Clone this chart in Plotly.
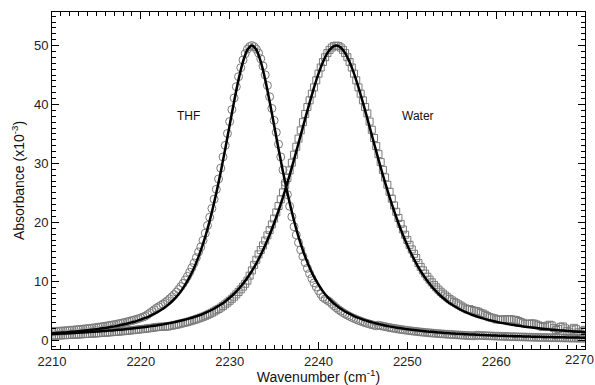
import plotly.graph_objects as go

# Sampling grid of the measured spectra (cm^-1)
wn_start = 2210.0
data_step = 0.25
fit_step = 0.5

# Measured absorbance (x10^-3), nitrile band in THF
thf_data = [
    1.45, 1.48, 1.50, 1.53, 1.56, 1.58, 1.61, 1.64, 1.68, 1.71,
    1.74, 1.78, 1.81, 1.85, 1.89, 1.93, 1.98, 2.02, 2.06, 2.11,
    2.16, 2.21, 2.27, 2.32, 2.38, 2.44, 2.51, 2.57, 2.64, 2.71,
    2.79, 2.87, 2.95, 3.04, 3.13, 3.23, 3.33, 3.43, 3.54, 3.66,
    3.79, 3.93, 4.07, 4.33, 4.59, 4.86, 5.15, 5.44, 5.66, 5.89,
    6.13, 6.40, 6.70, 7.02, 7.36, 7.73, 8.15, 8.60, 9.08, 9.62,
    10.21, 10.83, 11.53, 12.29, 13.10, 14.00, 14.97, 15.82, 16.94, 18.16,
    19.46, 20.86, 22.35, 23.93, 25.60, 27.36, 29.20, 31.10, 33.06, 35.07,
    37.10, 39.13, 41.11, 43.02, 44.72, 46.24, 47.56, 48.63, 49.39, 49.82,
    50.00, 49.82, 49.39, 48.73, 47.76, 46.54, 45.02, 43.22, 41.31, 39.33,
    37.30, 35.27, 33.26, 31.10, 28.90, 26.76, 24.70, 22.73, 20.95, 19.26,
    17.86, 16.56, 15.34, 14.22, 13.17, 12.20, 11.30, 10.49, 9.73, 9.03,
    8.41, 7.82, 7.28, 7.00, 6.75, 6.53, 6.16, 5.82, 5.50, 5.20,
    4.93, 4.69, 4.46, 4.24, 4.05, 3.86, 3.69, 3.53, 3.37, 3.23,
    3.09, 2.96, 2.84, 2.73, 2.63, 2.53, 2.43, 2.54, 2.45, 2.37,
    2.29, 2.21, 2.14, 2.07, 2.01, 1.94, 1.88, 1.82, 1.77, 1.71,
    1.66, 1.61, 1.56, 1.52, 1.48, 1.43, 1.39, 1.35, 1.31, 1.28,
    1.24, 1.21, 1.18, 1.14, 1.11, 1.08, 1.06, 1.03, 1.00, 0.98,
    0.95, 0.93, 0.90, 0.88, 0.86, 0.83, 0.81, 0.79, 0.77, 0.76,
    0.74, 0.82, 0.80, 0.79, 0.77, 0.76, 0.74, 0.73, 0.71, 0.70,
    0.68, 0.67, 0.65, 0.64, 0.63, 0.62, 0.60, 0.59, 0.58, 0.57,
    0.56, 0.55, 0.54, 0.53, 0.52, 0.51, 0.50, 0.49, 0.48, 0.47,
    0.46, 0.45, 0.44, 0.44, 0.43, 0.42, 0.41, 0.40, 0.40, 0.39,
    0.38, 0.37, 0.37, 0.36, 0.35, 0.35, 0.34, 0.33, 0.33, 0.32,
    0.32,
]

# Measured absorbance (x10^-3), nitrile band in water
water_data = [
    0.75, 0.77, 0.78, 0.80, 0.82, 0.84, 0.85, 0.87, 0.89, 0.91,
    0.93, 0.95, 0.97, 0.99, 1.02, 1.04, 1.06, 1.08, 1.11, 1.13,
    1.16, 1.19, 1.21, 1.24, 1.27, 1.30, 1.33, 1.36, 1.39, 1.42,
    1.45, 1.49, 1.52, 1.56, 1.60, 1.64, 1.68, 1.72, 1.77, 1.81,
    1.85, 1.90, 1.94, 1.99, 2.04, 2.09, 2.15, 2.20, 2.26, 2.27,
    2.28, 2.30, 2.32, 2.39, 2.47, 2.54, 2.62, 2.71, 2.81, 2.90,
    2.99, 3.09, 3.20, 3.31, 3.43, 3.55, 3.68, 3.82, 3.97, 4.13,
    4.30, 4.48, 4.66, 4.86, 5.08, 5.30, 5.54, 5.80, 6.08, 6.38,
    6.69, 7.02, 7.38, 7.77, 8.18, 8.62, 9.08, 9.57, 10.10, 10.95,
    11.84, 12.78, 13.65, 14.56, 15.30, 16.08, 16.91, 17.79, 18.69, 19.64,
    20.64, 21.69, 22.77, 23.91, 25.08, 26.28, 27.53, 28.81, 30.12, 31.47,
    32.83, 34.21, 35.61, 37.00, 38.39, 39.57, 40.71, 41.84, 42.90, 44.11,
    45.24, 46.28, 47.21, 48.03, 48.73, 49.27, 49.67, 49.92, 50.00, 49.92,
    49.67, 49.27, 48.73, 48.03, 47.21, 46.28, 45.24, 44.11, 42.90, 41.84,
    40.71, 39.57, 38.49, 37.10, 35.71, 34.31, 32.93, 31.57, 30.22, 28.91,
    27.63, 26.38, 25.18, 24.01, 22.87, 21.79, 20.74, 19.74, 18.79, 17.89,
    17.01, 16.18, 15.40, 14.66, 13.95, 13.08, 12.44, 11.85, 11.30, 10.77,
    10.28, 9.82, 9.38, 8.97, 8.58, 8.22, 7.89, 7.58, 7.28, 7.00,
    6.74, 6.50, 6.28, 6.06, 5.86, 5.58, 5.40, 5.23, 5.27, 5.12,
    4.98, 4.95, 4.83, 4.61, 4.50, 4.29, 4.09, 3.90, 3.81, 3.71,
    3.52, 3.54, 3.47, 3.49, 3.52, 3.55, 3.58, 3.52, 3.46, 3.40,
    3.25, 3.09, 2.94, 2.79, 2.74, 2.80, 2.85, 2.81, 2.67, 2.52,
    2.38, 2.24, 2.30, 2.46, 2.62, 2.49, 2.05, 1.72, 1.89, 2.26,
    2.33, 2.00, 1.57, 1.34, 1.81, 2.09, 1.86, 1.33, 1.11, 1.58,
    1.76,
]

# Fitted line shapes, sampled every 0.5 cm^-1
thf_fit = [
    1.15, 1.20, 1.26, 1.31, 1.38, 1.44, 1.51, 1.59, 1.68, 1.76,
    1.86, 1.97, 2.08, 2.21, 2.34, 2.49, 2.65, 2.83, 3.03, 3.24,
    3.49, 3.77, 4.09, 4.45, 4.86, 5.33, 5.90, 6.56, 7.35, 8.28,
    9.41, 10.73, 12.30, 14.17, 16.34, 18.86, 21.75, 25.00, 28.60, 32.46,
    36.50, 40.51, 44.22, 47.26, 49.29, 50.00, 49.29, 47.26, 44.22, 40.51,
    36.50, 32.46, 28.60, 25.00, 21.75, 18.86, 16.34, 14.17, 12.30, 10.73,
    9.41, 8.28, 7.35, 6.56, 5.90, 5.33, 4.86, 4.45, 4.09, 3.77,
    3.49, 3.24, 3.03, 2.83, 2.65, 2.49, 2.34, 2.21, 2.08, 1.97,
    1.86, 1.76, 1.68, 1.59, 1.51, 1.44, 1.38, 1.31, 1.26, 1.20,
    1.15, 1.10, 1.06, 1.01, 0.97, 0.94, 0.90, 0.87, 0.84, 0.81,
    0.78, 0.75, 0.73, 0.70, 0.68, 0.66, 0.64, 0.62, 0.60, 0.58,
    0.56, 0.54, 0.53, 0.51, 0.50, 0.48, 0.47, 0.45, 0.44, 0.43,
    0.42,
]

water_fit = [
    1.05, 1.08, 1.12, 1.15, 1.19, 1.23, 1.27, 1.32, 1.36, 1.41,
    1.46, 1.51, 1.57, 1.63, 1.69, 1.75, 1.82, 1.90, 1.98, 2.07,
    2.15, 2.24, 2.34, 2.45, 2.56, 2.68, 2.82, 2.97, 3.12, 3.31,
    3.49, 3.70, 3.93, 4.18, 4.47, 4.80, 5.16, 5.58, 6.04, 6.58,
    7.19, 7.88, 8.68, 9.58, 10.60, 11.74, 13.05, 14.50, 16.11, 17.89,
    19.84, 21.97, 24.28, 26.73, 29.32, 32.03, 34.81, 37.59, 40.31, 42.90,
    45.24, 47.21, 48.73, 49.67, 50.00, 49.67, 48.73, 47.21, 45.24, 42.90,
    40.31, 37.59, 34.81, 32.03, 29.32, 26.73, 24.28, 21.97, 19.84, 17.89,
    16.11, 14.50, 13.05, 11.74, 10.60, 9.58, 8.68, 7.88, 7.19, 6.58,
    6.04, 5.58, 5.16, 4.80, 4.47, 4.18, 3.93, 3.70, 3.49, 3.31,
    3.12, 2.97, 2.82, 2.68, 2.56, 2.45, 2.34, 2.24, 2.15, 2.07,
    1.98, 1.90, 1.82, 1.75, 1.69, 1.63, 1.57, 1.51, 1.46, 1.41,
    1.36,
]

x_ticks = [2210, 2220, 2230, 2240, 2250, 2260, 2270]
y_ticks = [0, 10, 20, 30, 40, 50]
labels = [("THF", 2225.4, 38.1), ("Water", 2251.15, 38.1)]

x_data = [wn_start + data_step * i for i in range(len(thf_data))]
x_fit = [wn_start + fit_step * i for i in range(len(thf_fit))]

FONT = "Liberation Sans, Arial, Helvetica, sans-serif"
MARKER_GRAY = "#7a7a7a"
TICK_FONT = dict(family=FONT, size=13, color="#222")

fig = go.Figure()

fig.add_trace(go.Scatter(
    x=x_data, y=thf_data, mode="markers", name="THF",
    marker=dict(symbol="circle-open", size=8, color=MARKER_GRAY,
                line=dict(width=1, color=MARKER_GRAY)),
))
fig.add_trace(go.Scatter(
    x=x_data, y=water_data, mode="markers", name="Water",
    marker=dict(symbol="square-open", size=7, color=MARKER_GRAY,
                line=dict(width=1, color=MARKER_GRAY)),
))
fig.add_trace(go.Scatter(
    x=x_fit, y=thf_fit, mode="lines", name="THF fit",
    line=dict(color="black", width=2.5, shape="spline", smoothing=0.6),
))
fig.add_trace(go.Scatter(
    x=x_fit, y=water_fit, mode="lines", name="Water fit",
    line=dict(color="black", width=2.5, shape="spline", smoothing=0.6),
))

for text, xv, yv in labels:
    fig.add_annotation(x=xv, y=yv, xref="x", yref="y", text=text,
                       showarrow=False, font=dict(family=FONT, size=12, color="#111"))

# The last x label sits at the right page edge: pull it inward so it stays whole
x_ticktext = [str(v) for v in x_ticks[:-1]] + [""]
fig.add_annotation(x=x_ticks[-1], y=0, xref="x", yref="paper", text=str(x_ticks[-1]),
                   showarrow=False, xanchor="right", yanchor="top", xshift=11, yshift=-1,
                   font=TICK_FONT)

axis_common = dict(
    showline=True, linecolor="black", linewidth=1, mirror="allticks",
    ticks="inside", ticklen=7, tickwidth=1, tickcolor="black",
    showgrid=False, zeroline=False, tickfont=TICK_FONT,
)

fig.update_xaxes(
    range=[2210, 2270], tickvals=x_ticks, ticktext=x_ticktext,
    minor=dict(ticks="inside", ticklen=4, dtick=1, tick0=2210, tickcolor="black", showgrid=False),
    title=dict(text="Wavenumber (cm<sup>-1</sup>)", font=dict(family=FONT, size=14, color="#111"), standoff=1),
    **axis_common,
)
fig.update_yaxes(
    range=[-1.5, 55.7], tickvals=y_ticks,
    minor=dict(ticks="inside", ticklen=4, dtick=1, tick0=0, tickcolor="black", showgrid=False),
    title=dict(text="Absorbance (x10<sup>-3</sup>)", font=dict(family=FONT, size=14, color="#111"), standoff=6),
    **axis_common,
)

fig.update_layout(
    width=595, height=385,
    margin=dict(l=52, r=10, t=12, b=36, autoexpand=False),
    paper_bgcolor="white", plot_bgcolor="white",
    showlegend=False,
)

fig.write_html("out.html")
